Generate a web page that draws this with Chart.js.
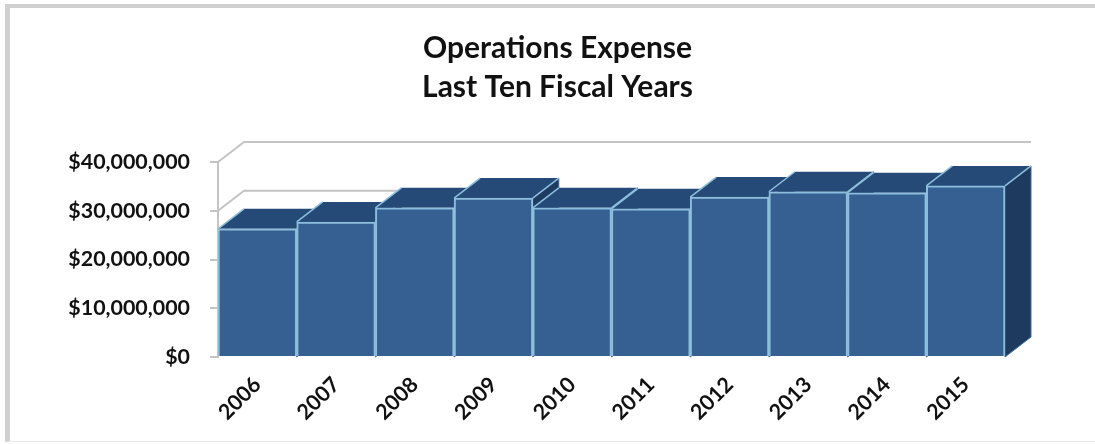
<!DOCTYPE html>
<html>
<head>
<meta charset="utf-8">
<title>Operations Expense</title>
<script src="https://cdn.jsdelivr.net/npm/chart.js@4/dist/chart.umd.js"></script>
<style>
  html, body { margin: 0; padding: 0; background: #fff; }
  #wrap { position: relative; width: 1095px; height: 444px; overflow: hidden; }
  #frame { position: absolute; left: 5px; top: 4px; right: 0; bottom: 2px;
           border: solid #d0d0d0; border-width: 4px 0 0 5px; border-bottom: 1px solid #e8e8e8; pointer-events: none; }
  canvas { display: block; }
</style>
</head>
<body>
<div id="wrap">
  <canvas id="chart" width="1095" height="444"></canvas>
  <div id="frame"></div>
</div>
<script>
const titleLines = ["Operations Expense", "Last Ten Fiscal Years"];
const years = ["2006", "2007", "2008", "2009", "2010", "2011", "2012", "2013", "2014", "2015"];
const expense = [26300000, 27700000, 30600000, 32600000, 30600000, 30400000, 32800000, 33900000, 33700000, 35100000];
const axisMax = 40000000;
const axisStep = 10000000;

const depthX = 26;
const depthY = 20;
const titleShift = 45;
const gridColor = "#c4c4c4";
const edgeColor = "#8dbfdc";
const textColor = "#111111";
const labelFont = { family: "Lato", weight: "bold", size: 21.4 };

function fillPoly(ctx, pts, fill, stroke, width) {
  ctx.beginPath();
  pts.forEach((p, i) => i ? ctx.lineTo(p[0], p[1]) : ctx.moveTo(p[0], p[1]));
  ctx.closePath();
  ctx.fillStyle = fill;
  ctx.fill();
  if (stroke) {
    ctx.strokeStyle = stroke;
    ctx.lineWidth = width;
    ctx.stroke();
  }
}

function edge(ctx, x, y) {
  ctx.strokeStyle = edgeColor;
  ctx.lineWidth = 1.5;
  ctx.beginPath();
  ctx.moveTo(x, y);
  ctx.lineTo(x + depthX, y - depthY);
  ctx.stroke();
}

// back wall lines and the receding top/side faces of each bar
const depthFaces = {
  id: "depthFaces",
  afterLayout(chart) {
    // title sits a little right of the page centre
    chart.titleBlock.left += titleShift;
    chart.titleBlock.right += titleShift;
  },
  beforeDatasetsDraw(chart) {
    const { ctx, chartArea, scales } = chart;
    const bars = chart.getDatasetMeta(0).data;
    const base = scales.y.getPixelForValue(0);

    ctx.save();
    ctx.strokeStyle = gridColor;
    ctx.lineWidth = 2;
    for (let v = axisStep; v <= axisMax; v += axisStep) {
      const y = scales.y.getPixelForValue(v);
      ctx.beginPath();
      ctx.moveTo(chartArea.left, y);
      ctx.lineTo(chartArea.left + depthX, y - depthY);
      ctx.lineTo(chartArea.right + depthX, y - depthY);
      ctx.stroke();
    }

    bars.forEach(bar => {
      const left = bar.x - bar.width / 2;
      const right = bar.x + bar.width / 2;
      fillPoly(ctx, [[right, bar.y], [right + depthX, bar.y - depthY],
                     [right + depthX, base - depthY], [right, base]], "#1f3a5f", "#3f6f9a", 1);
      fillPoly(ctx, [[left, bar.y], [left + depthX, bar.y - depthY],
                     [right + depthX, bar.y - depthY], [right, bar.y]], "#254a78", null);
      edge(ctx, left, bar.y);
      edge(ctx, right, bar.y);
    });
    ctx.restore();
  }
};

new Chart(document.getElementById("chart"), {
  type: "bar",
  data: {
    labels: years,
    datasets: [{
      data: expense,
      backgroundColor: "#376092",
      borderColor: edgeColor,
      borderWidth: 2,
      barPercentage: 1,
      categoryPercentage: 1
    }]
  },
  plugins: [depthFaces],
  options: {
    responsive: false,
    animation: false,
    events: [],
    layout: { padding: { left: 20, right: 90, top: 29, bottom: 0 } },
    plugins: {
      legend: { display: false },
      tooltip: { enabled: false },
      title: {
        display: true,
        text: titleLines,
        color: textColor,
        font: { family: "Lato", weight: "bold", size: 30, lineHeight: 1.3 },
        padding: { top: 0, bottom: 55 }
      }
    },
    scales: {
      x: {
        afterFit(scale) { scale.height = 87; },
        grid: { display: false },
        border: { display: false },
        ticks: {
          color: textColor,
          font: labelFont,
          minRotation: 45,
          maxRotation: 45,
          padding: 7
        }
      },
      y: {
        min: 0,
        max: axisMax,
        afterFit(scale) { scale.width = 198; },
        grid: { drawOnChartArea: false, color: gridColor, tickLength: 8, lineWidth: 2 },
        border: { color: gridColor, width: 2 },
        ticks: {
          stepSize: axisStep,
          color: textColor,
          font: labelFont,
          padding: 20,
          callback: v => "$" + v.toLocaleString("en-US")
        }
      }
    }
  }
});
</script>
</body>
</html>
